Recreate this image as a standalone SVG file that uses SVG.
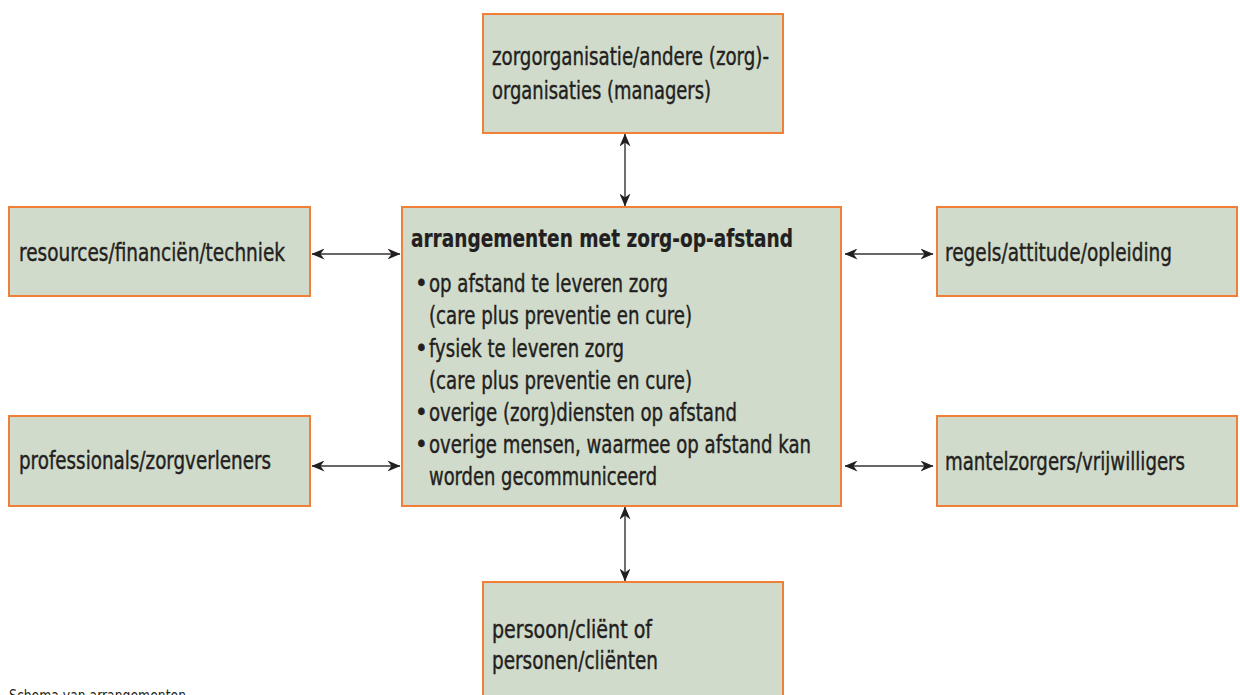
<svg xmlns="http://www.w3.org/2000/svg" width="1240" height="695" viewBox="0 0 1240 695">
<style>
.box{fill:#d1dbcb;stroke:#f07f37;stroke-width:2}
.t{font-family:"DejaVu Sans Condensed","Liberation Sans",sans-serif;font-size:24px;fill:#231f20;stroke:#231f20;stroke-width:0.4}
.b{font-weight:bold;stroke-width:0.2}
.cap{font-family:"DejaVu Sans Condensed","Liberation Sans",sans-serif;font-size:16px;fill:#231f20}
.c{stroke:#333;stroke-width:1.4;fill:none;marker-start:url(#ah);marker-end:url(#ah)}
</style>
<defs>
<marker id="ah" viewBox="0 0 13 11" refX="12.5" refY="5.5" markerWidth="13" markerHeight="11" markerUnits="userSpaceOnUse" orient="auto-start-reverse">
<path d="M0,0 L13,5.5 L0,11 L4,5.5 Z" fill="#231f20"/>
</marker>
</defs>
<g id="connectors">
<line class="c" x1="625" y1="134" x2="625" y2="206"/>
<line class="c" x1="625" y1="507" x2="625" y2="581"/>
<line class="c" x1="312" y1="254" x2="400" y2="254"/>
<line class="c" x1="312" y1="466" x2="400" y2="466"/>
<line class="c" x1="845" y1="254" x2="933" y2="254"/>
<line class="c" x1="845" y1="466" x2="933" y2="466"/>
</g>
<g id="top">
<rect class="box" x="483" y="14" width="300" height="119"/>
<text class="t" x="492" y="65" textLength="277" lengthAdjust="spacingAndGlyphs">zorgorganisatie/andere (zorg)-</text>
<text class="t" x="492" y="99" textLength="219" lengthAdjust="spacingAndGlyphs">organisaties (managers)</text>
</g>
<g id="center">
<rect class="box" x="402" y="207" width="439" height="299"/>
<text class="t b" x="411" y="247" textLength="382" lengthAdjust="spacingAndGlyphs">arrangementen met zorg-op-afstand</text>
<text class="t" x="415" y="292">•</text><text class="t" x="429" y="292" textLength="239" lengthAdjust="spacingAndGlyphs">op afstand te leveren zorg</text>
<text class="t" x="429" y="324" textLength="263" lengthAdjust="spacingAndGlyphs">(care plus preventie en cure)</text>
<text class="t" x="415" y="357">•</text><text class="t" x="429" y="357" textLength="195" lengthAdjust="spacingAndGlyphs">fysiek te leveren zorg</text>
<text class="t" x="429" y="389" textLength="263" lengthAdjust="spacingAndGlyphs">(care plus preventie en cure)</text>
<text class="t" x="415" y="421">•</text><text class="t" x="429" y="421" textLength="308" lengthAdjust="spacingAndGlyphs">overige (zorg)diensten op afstand</text>
<text class="t" x="415" y="453">•</text><text class="t" x="429" y="453" textLength="382" lengthAdjust="spacingAndGlyphs">overige mensen, waarmee op afstand kan</text>
<text class="t" x="429" y="485" textLength="228" lengthAdjust="spacingAndGlyphs">worden gecommuniceerd</text>
</g>
<g id="left-top">
<rect class="box" x="9" y="207" width="301" height="89"/>
<text class="t" x="19" y="261" textLength="266" lengthAdjust="spacingAndGlyphs">resources/financiën/techniek</text>
</g>
<g id="left-bottom">
<rect class="box" x="9" y="416" width="301" height="90"/>
<text class="t" x="19" y="469" textLength="252" lengthAdjust="spacingAndGlyphs">professionals/zorgverleners</text>
</g>
<g id="right-top">
<rect class="box" x="937" y="207" width="300" height="89"/>
<text class="t" x="945" y="261" textLength="227" lengthAdjust="spacingAndGlyphs">regels/attitude/opleiding</text>
</g>
<g id="right-bottom">
<rect class="box" x="937" y="416" width="300" height="90"/>
<text class="t" x="945" y="470" textLength="240" lengthAdjust="spacingAndGlyphs">mantelzorgers/vrijwilligers</text>
</g>
<g id="bottom">
<rect class="box" x="483" y="582" width="300" height="130"/>
<text class="t" x="492" y="638" textLength="160" lengthAdjust="spacingAndGlyphs">persoon/cliënt of</text>
<text class="t" x="492" y="669" textLength="166" lengthAdjust="spacingAndGlyphs">personen/cliënten</text>
</g>
<text class="cap" x="9" y="701" textLength="177" lengthAdjust="spacingAndGlyphs">Schema van arrangementen</text>
</svg>
